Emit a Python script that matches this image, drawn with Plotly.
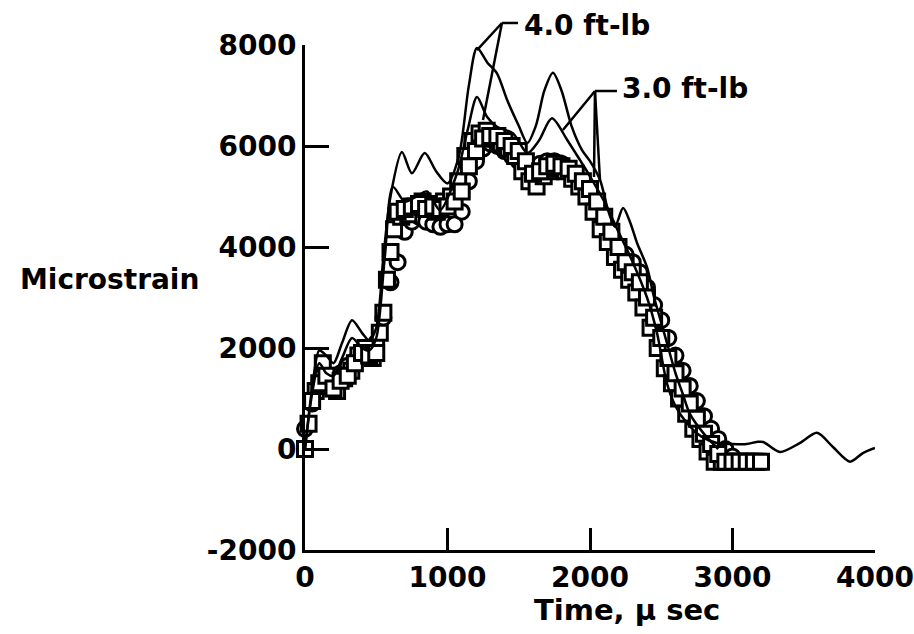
import plotly.graph_objects as go

# ---------------- data ----------------
# Solid line, upper 4.0 ft-lb trace
a_t = [0, 50, 100, 150, 200, 260, 330, 400, 450, 500, 550, 600, 680, 750, 840, 920, 1000,
       1080, 1150, 1207, 1280, 1347, 1420, 1500, 1560, 1620, 1680, 1740, 1800, 1870, 1944,
       2000, 2070, 2130, 2175, 2232, 2280, 2330, 2400, 2450, 2500, 2550, 2600, 2650, 2700,
       2800, 2900]
a_v = [0, 1200, 1950, 1850, 1700, 2100, 2550, 2300, 2150, 2400, 3800, 5000, 5880, 5460,
       5860, 5500, 5260, 5800, 7200, 7940, 7650, 7440, 6900, 6400, 6060, 6400, 7100, 7450,
       7100, 6400, 5920, 5700, 5330, 4700, 4400, 4770, 4500, 4080, 3600, 3000, 2500, 2000,
       1500, 1100, 700, 300, 0]

# Solid line, lower trace (with the long tail to 4000 us)
b_t = [0, 50, 100, 150, 200, 260, 330, 400, 450, 500, 560, 617, 700, 780, 856, 947, 1067,
       1140, 1207, 1277, 1347, 1460, 1560, 1640, 1733, 1840, 1930, 2000, 2100, 2200, 2300,
       2400, 2470, 2540, 2600, 2680, 2780, 2890, 3000, 3100, 3170, 3215, 3333, 3474, 3593,
       3705, 3825, 3915, 4000]
b_v = [0, 1100, 1700, 1500, 1450, 1800, 2200, 2000, 1950, 2200, 3800, 5190, 4900, 5000,
       5100, 4730, 5460, 6300, 6970, 6580, 6380, 6250, 5860, 6100, 6550, 6120, 5720, 5400,
       4900, 4300, 3700, 3000, 2300, 1300, 850, 515, 250, 120, 100, 100, 140, 140, -60,
       120, 320, 40, -250, -80, 20]

# Circle symbols
c_t = list(range(0, 3101, 50))
c_v = [400, 900, 1300, 1400, 1450, 1500, 1650, 1750, 1950, 2000, 2100, 2600, 3300, 3700,
       4300, 4500, 4600, 4500, 4450, 4400, 4450, 4450, 4700, 5300, 5700, 5950, 6050, 6000,
       5900, 5800, 5700, 5600, 5600, 5650, 5700, 5700, 5650, 5550, 5400, 5250, 5050, 4800,
       4500, 4250, 4000, 3850, 3700, 3500, 3200, 2850, 2550, 2200, 1850, 1550, 1250, 950,
       650, 400, 200, 0, -150, -250, -250]

# Square symbols, first set
s1_t = list(range(0, 3201, 50))
s1_v = [0, 950, 1300, 1450, 1200, 1350, 1450, 1700, 1900, 1850, 1900, 2700, 3900, 4700,
        4750, 4800, 4850, 4750, 4800, 4750, 4800, 4900, 5100, 5600, 5900, 6150, 6200, 6200,
        6100, 6000, 5900, 5700, 5450, 5500, 5600, 5650, 5600, 5550, 5450, 5300, 5150, 4900,
        4600, 4300, 4000, 3700, 3500, 3300, 3000, 2600, 2200, 1800, 1500, 1200, 900, 600,
        300, 100, -100, -250, -250, -250, -250, -250, -250]

# Square symbols, second set
s2_t = list(range(25, 3201, 50))
s2_v = [500, 1150, 1700, 1250, 1150, 1400, 1550, 1850, 2000, 1800, 2300, 3350, 4350, 4600,
        4650, 4800, 4900, 4850, 4700, 4900, 5000, 5300, 5800, 6100, 6250, 6300, 6150, 6050,
        5950, 5800, 5500, 5300, 5200, 5400, 5500, 5550, 5500, 5350, 5200, 5000, 4700, 4350,
        4100, 3800, 3550, 3350, 3100, 2800, 2400, 2000, 1600, 1300, 1000, 700, 400, 200,
        -50, -250, -250, -250, -250, -250, -250, -250]

x_ticks = [0, 1000, 2000, 3000, 4000]
y_ticks = [-2000, 0, 2000, 4000, 6000, 8000]

# leader lines of the two labels, in data units (time, microstrain)
leader_4 = [((1382, 8436), (1495, 8436)), ((1382, 8436), (1207, 7900)),
            ((1382, 8436), (1249, 6515))]
leader_3 = [((2035, 7089), (2189, 7089)), ((2035, 7089), (1810, 6317)),
            ((2035, 7089), (2028, 5386)), ((2035, 7089), (2070, 5327))]
label_4 = (1523, 8396, "4.0 ft-lb")
label_3 = (2210, 7129, "3.0 ft-lb")

X_RANGE = [0, 4000]
Y_RANGE = [-2000, 8000]
FONT = "DejaVu Sans"


def to_paper(x, y):
    return ((x - X_RANGE[0]) / (X_RANGE[1] - X_RANGE[0]),
            (y - Y_RANGE[0]) / (Y_RANGE[1] - Y_RANGE[0]))


fig = go.Figure()

marker_line = dict(color="black", width=3)
fig.add_trace(go.Scatter(x=c_t, y=c_v, mode="markers", cliponaxis=False,
                         marker=dict(symbol="circle", size=15, color="white", line=marker_line)))
fig.add_trace(go.Scatter(x=s2_t, y=s2_v, mode="markers", cliponaxis=False,
                         marker=dict(symbol="square", size=15, color="white", line=marker_line)))
fig.add_trace(go.Scatter(x=s1_t, y=s1_v, mode="markers", cliponaxis=False,
                         marker=dict(symbol="square", size=15, color="white", line=marker_line)))
fig.add_trace(go.Scatter(x=b_t, y=b_v, mode="lines", cliponaxis=False,
                         line=dict(color="black", width=2.5, shape="spline", smoothing=0.8)))
fig.add_trace(go.Scatter(x=a_t, y=a_v, mode="lines", cliponaxis=False,
                         line=dict(color="black", width=2.5, shape="spline", smoothing=0.8)))

for (p0, p1) in leader_4 + leader_3:
    x0, y0 = to_paper(*p0)
    x1, y1 = to_paper(*p1)
    fig.add_shape(type="line", x0=x0, y0=y0, x1=x1, y1=y1, xref="paper", yref="paper",
                  line=dict(color="black", width=2.5))

for (lx, ly, txt) in (label_4, label_3):
    px, py = to_paper(lx, ly)
    fig.add_annotation(x=px, y=py, xref="paper", yref="paper", text=txt, showarrow=False,
                       xanchor="left", yanchor="middle",
                       font=dict(family=FONT, size=28, color="black", weight="bold"))

fig.add_annotation(x=-0.5035, y=0.5347, xref="paper", yref="paper", text="Microstrain",
                   showarrow=False, xanchor="left", yanchor="middle",
                   font=dict(family=FONT, size=28, color="black", weight="bold"))
fig.add_annotation(x=0.565, y=-0.119, xref="paper", yref="paper", text="Time, μ sec",
                   showarrow=False, xanchor="center", yanchor="middle",
                   font=dict(family=FONT, size=29, color="black", weight="bold"))

fig.update_layout(
    width=914, height=634,
    margin=dict(l=305, r=39, t=45, b=84),
    plot_bgcolor="white", paper_bgcolor="white",
    showlegend=False,
    font=dict(family=FONT, size=28, color="black", weight="bold"),
)
fig.update_xaxes(range=X_RANGE, tickvals=x_ticks, ticktext=[str(v) for v in x_ticks],
                 automargin=False,
                 showgrid=False, zeroline=False, showline=True, linecolor="black", linewidth=3,
                 ticks="inside", ticklen=22, tickwidth=2.5, tickcolor="black",
                 tickfont=dict(family=FONT, size=28, color="black", weight="bold"))
fig.update_yaxes(range=Y_RANGE, tickvals=y_ticks, ticktext=[str(v) for v in y_ticks],
                 automargin=False,
                 showgrid=False, zeroline=False, showline=True, linecolor="black", linewidth=3,
                 ticks="inside", ticklen=24, tickwidth=2.5, tickcolor="black",
                 tickfont=dict(family=FONT, size=28, color="black", weight="bold"))

fig.write_html("out.html")
